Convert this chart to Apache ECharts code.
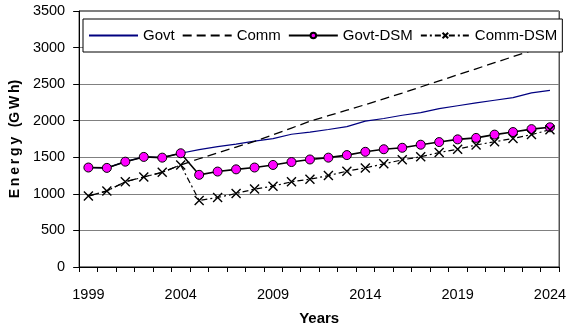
<!DOCTYPE html>
<html>
<head>
<meta charset="utf-8">
<script src="https://cdn.jsdelivr.net/npm/echarts@6/dist/echarts.min.js"></script>
<style>
  html, body { margin: 0; padding: 0; background: #fff; }
  #chart { width: 569px; height: 331px; }
</style>
</head>
<body>
<div id="chart"></div>
<script>
const years = ['1999', '2000', '2001', '2002', '2003', '2004', '2005', '2006', '2007', '2008', '2009', '2010', '2011',
  '2012', '2013', '2014', '2015', '2016', '2017', '2018', '2019', '2020', '2021', '2022', '2023', '2024'];

const govt = [1360, 1355, 1440, 1505, 1495, 1555, 1605, 1645, 1680, 1720, 1755, 1815, 1845,
  1880, 1920, 1995, 2030, 2075, 2110, 2165, 2205, 2245, 2280, 2315, 2380, 2415];
const comm = [970, 1040, 1165, 1230, 1295, 1395, 1480, 1560, 1640, 1717, 1808, 1900, 1992,
  2068, 2144, 2220, 2299, 2378, 2461, 2544, 2627, 2710, 2793, 2876, 2959, 3042];
const govtDsm = [1360, 1355, 1440, 1505, 1495, 1555, 1260, 1305, 1335, 1360, 1395, 1435, 1470,
  1495, 1530, 1575, 1610, 1630, 1672, 1708, 1745, 1765, 1810, 1845, 1885, 1910];
const commDsm = [970, 1040, 1165, 1230, 1295, 1395, 910, 950, 1005, 1065, 1105, 1165, 1200,
  1250, 1310, 1355, 1410, 1465, 1507, 1565, 1610, 1668, 1712, 1757, 1810, 1877];

const font = "'Liberation Sans', Arial, sans-serif";
const crossPath = 'path://M0,0L10,10M10,0L0,10';

const chart = echarts.init(document.getElementById('chart'), null, { renderer: 'canvas' });
chart.setOption({
  animation: false,
  textStyle: { fontFamily: font, color: '#000' },
  grid: {
    left: 79,
    right: 6,
    top: 11,
    bottom: 59,
    show: true,
    borderColor: '#000',
    borderWidth: 1,
  },
  legend: {
    left: 83,
    top: 19,
    padding: [9, 5, 9, 5],
    itemWidth: 49,
    itemHeight: 7,
    itemGap: 7,
    backgroundColor: '#fff',
    borderColor: '#000',
    borderWidth: 1,
    textStyle: { fontFamily: font, fontSize: 15, color: '#000' },
    data: [
      { name: 'Govt', itemStyle: { opacity: 0 } },
      { name: 'Comm', itemStyle: { opacity: 0 } },
      { name: 'Govt-DSM' },
      { name: 'Comm-DSM' },
    ],
  },
  xAxis: {
    type: 'category',
    data: years,
    boundaryGap: true,
    name: 'Years',
    nameLocation: 'middle',
    nameGap: 44,
    nameTextStyle: { fontFamily: font, fontSize: 15, fontWeight: 'bold', color: '#000' },
    axisLine: { lineStyle: { color: '#000', width: 1 } },
    axisTick: { show: true, interval: 0, length: 5, lineStyle: { color: '#000' } },
    axisLabel: { interval: 4, margin: 20, fontFamily: font, fontSize: 14.5, color: '#000' },
    splitLine: { show: false },
  },
  yAxis: {
    type: 'value',
    min: 0,
    max: 3500,
    interval: 500,
    name: 'E\u2009n\u2009e\u2009r\u2009g\u2009y\u2009 \u2009(G\u2009W\u2009h)',
    nameLocation: 'middle',
    nameGap: 56,
    nameTextStyle: { fontFamily: font, fontSize: 14, fontWeight: 'bold', color: '#000' },
    axisLine: { show: true, lineStyle: { color: '#000', width: 1 } },
    axisTick: { show: true, length: 6, lineStyle: { color: '#000' } },
    axisLabel: { margin: 14, fontFamily: font, fontSize: 14.5, color: '#000', formatter: (v) => String(v) },
    splitLine: { show: true, lineStyle: { color: '#808080', width: 1 } },
  },
  series: [
    {
      name: 'Govt',
      type: 'line',
      data: govt,
      symbol: 'none',
      lineStyle: { color: '#000080', width: 1.2 },
      itemStyle: { color: '#000080' },
    },
    {
      name: 'Comm',
      type: 'line',
      data: comm,
      symbol: 'none',
      lineStyle: { color: '#000', width: 1.3, type: [9, 5] },
      itemStyle: { color: '#000' },
    },
    {
      name: 'Govt-DSM',
      type: 'line',
      data: govtDsm,
      symbol: 'circle',
      symbolSize: 9,
      lineStyle: { color: '#000', width: 1.6 },
      itemStyle: { color: '#ff00ff', borderColor: '#000', borderWidth: 1 },
    },
    {
      name: 'Comm-DSM',
      type: 'line',
      data: commDsm,
      symbol: crossPath,
      symbolSize: 9,
      lineStyle: { color: '#000', width: 1.2, type: [6, 3, 2, 3] },
      itemStyle: { color: '#000', borderColor: '#000', borderWidth: 1.4 },
    },
  ],
});
</script>
</body>
</html>
